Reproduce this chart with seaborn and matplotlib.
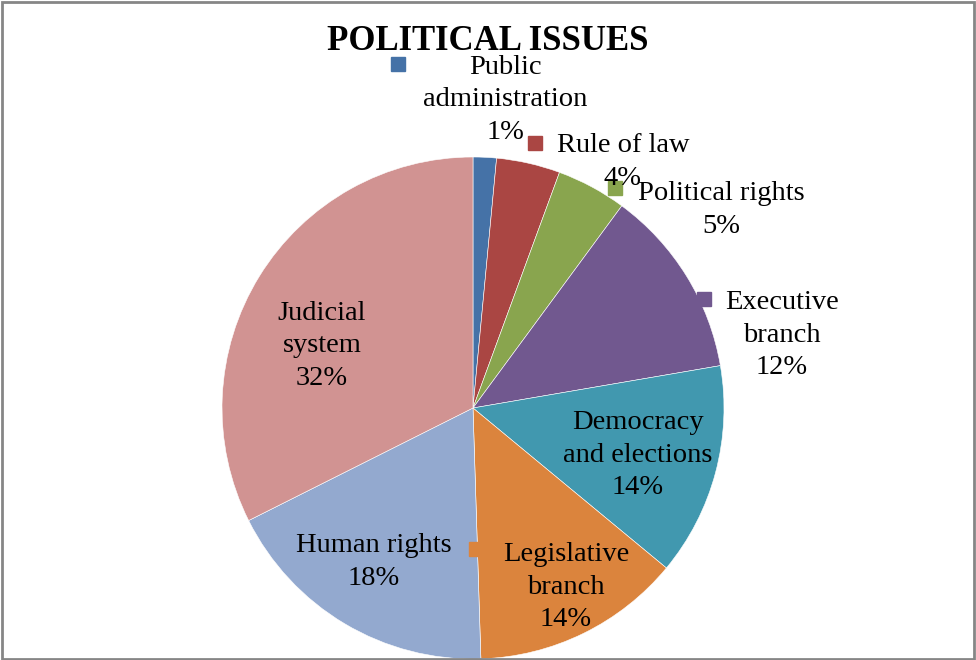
import matplotlib
matplotlib.use("Agg")
import matplotlib.pyplot as plt
from matplotlib.patches import Rectangle
import seaborn as sns

# ---- data ----
categories = ["Public\nadministration", "Rule of law", "Political rights",
              "Executive\nbranch", "Democracy\nand elections",
              "Legislative\nbranch", "Human rights", "Judicial\nsystem"]
values = [1.5, 4.1, 4.5, 12.2, 13.7, 13.5, 18.1, 32.4]
pct_labels = ["1%", "4%", "5%", "12%", "14%", "14%", "18%", "32%"]
colors = ["#4572A7", "#AA4643", "#89A54E", "#71588F",
          "#4198AF", "#DB843D", "#93A9CF", "#D19392"]
title = "POLITICAL ISSUES"

sns.set_theme(style="white")
plt.rcParams["font.family"] = ["Liberation Serif", "DejaVu Serif"]

W, H = 976, 660
fig = plt.figure(figsize=(W / 100, H / 100), dpi=100)
ax = fig.add_axes([0, 0, 1, 1])

palette = sns.color_palette(colors)
ax.pie(values, colors=palette, startangle=90, counterclock=False,
       center=(473, H - 408), radius=251,
       wedgeprops=dict(edgecolor="white", linewidth=0.4))
ax.set_xlim(0, W)
ax.set_ylim(0, H)
ax.set_aspect("equal")
ax.axis("off")

# label layout (pixel positions from top-left): text center, key center or None
layout = [
    ((505, 100), (398, 64)),
    ((623, 162), (535, 143)),
    ((721, 210), (615, 188)),
    ((782, 335), (704, 299)),
    ((638, 455), None),
    ((566, 587), (476, 549)),
    ((374, 562), None),
    ((322, 346), None),
]
fs = 20.5
for cat, pct, col, (tpos, kpos) in zip(categories, pct_labels, colors, layout):
    x, y = tpos
    if kpos is not None:
        ax.plot(kpos[0], H - kpos[1], marker="s", markersize=9.5,
                color=col, linestyle="none", zorder=3)
    ax.text(x, H - y, f"{cat}\n{pct}", ha="center", va="center",
            fontsize=fs, color="black", multialignment="center",
            linespacing=1.40, zorder=4)

ax.text(488, H - 42, title, ha="center", va="center", fontsize=25,
        fontweight="bold", color="black", zorder=5)

fig.patches.append(Rectangle((0.002, 0.002), 0.996, 0.995,
                             transform=fig.transFigure, fill=False,
                             edgecolor="#868686", linewidth=2))

fig.savefig("out.png", dpi=100, facecolor="white")
